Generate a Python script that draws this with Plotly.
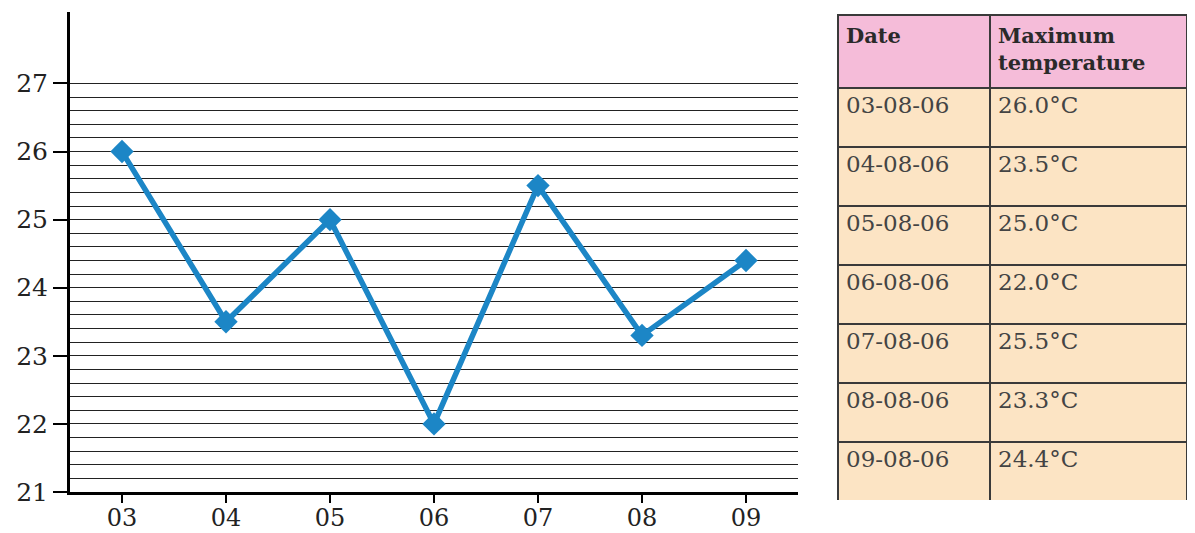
import plotly.graph_objects as go

days = ["03", "04", "05", "06", "07", "08", "09"]
max_temp = [26.0, 23.5, 25.0, 22.0, 25.5, 23.3, 24.4]
dates = ["03-08-06", "04-08-06", "05-08-06", "06-08-06", "07-08-06", "08-08-06", "09-08-06"]
temp_text = ["26.0°C", "23.5°C", "25.0°C", "22.0°C", "25.5°C", "23.3°C", "24.4°C"]
y_ticks = [21, 22, 23, 24, 25, 26, 27]
minor_levels = [round(21 + 0.2 * i, 1) for i in range(1, 31)]

# page has an 8px body margin, so the figure starts 8px in from the corner
OFF = 8
W, H = 1195 - OFF, 533 - OFF
serif = "DejaVu Serif"


def px(x):
    return (x - OFF) / W


def py(y):
    return 1 - (y - OFF) / H


fig = go.Figure()
fig.add_trace(go.Scatter(
    x=days, y=max_temp, mode="lines+markers",
    line=dict(color="#1C86C6", width=5.5),
    marker=dict(symbol="diamond", size=18, color="#1C86C6"),
    showlegend=False, cliponaxis=False,
))

fig.add_trace(go.Table(
    domain=dict(x=[px(838), px(1187)], y=[py(500), py(15)]),
    columnwidth=[152, 197],
    header=dict(
        values=["<b>Date</b>", "<b>Maximum<br>temperature</b>"],
        fill_color="#F5BCD9",
        line=dict(color="#3a3a3a", width=1.5),
        align="left",
        font=dict(family=serif, size=21, color="#2a2a2a"),
        height=73,
    ),
    cells=dict(
        values=[dates, temp_text],
        fill_color="#FCE4C4",
        line=dict(color="#3a3a3a", width=1.5),
        align="left",
        font=dict(family=serif, size=23, color="#444444"),
        height=59,
    ),
))

fig.update_layout(
    width=W, height=H,
    margin=dict(l=0, r=0, t=0, b=0),
    paper_bgcolor="white", plot_bgcolor="white",
    xaxis=dict(
        domain=[px(70), px(798)],
        type="category", range=[-0.5, 6.5],
        showgrid=False, zeroline=False, automargin=False,
        showline=True, linecolor="black", linewidth=3,
        ticks="outside", ticklen=8, tickwidth=1.5, tickcolor="black",
        ticklabelstandoff=-6,
        tickfont=dict(family=serif, size=24, color="#222"),
    ),
    yaxis=dict(
        domain=[py(492), py(12)],
        range=[21, 28.05],
        tickmode="array", tickvals=y_ticks,
        showgrid=True, gridcolor="#222", gridwidth=1.4,
        zeroline=False, automargin=False,
        showline=True, linecolor="black", linewidth=3,
        ticks="outside", ticklen=14, tickwidth=1.5, tickcolor="black",
        tickfont=dict(family=serif, size=25, color="#222"),
        minor=dict(tickmode="array", tickvals=minor_levels, showgrid=True,
                   gridcolor="#222", gridwidth=1.4, ticks=""),
    ),
)

fig.write_html("out.html")
